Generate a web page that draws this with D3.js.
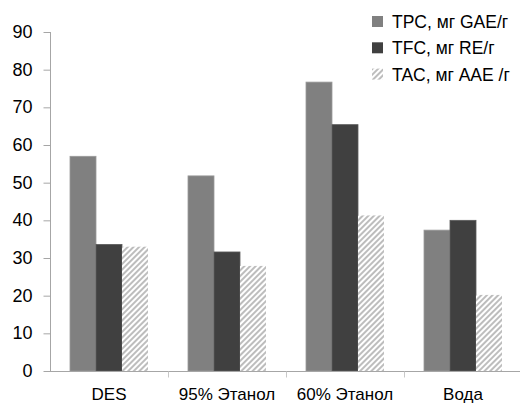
<!DOCTYPE html>
<html><head><meta charset="utf-8">
<script src="https://cdn.jsdelivr.net/npm/d3@7"></script>
<style>body{margin:0;background:#fff}svg{display:block}text{font-family:"Liberation Sans",Arial,sans-serif;fill:#000}</style>
</head><body><svg id="c" width="520" height="406"></svg>
<script>
const categories = ["DES", "95% Этанол", "60% Этанол", "Вода"];
const seriesNames = ["TPC, мг GAE/г", "TFC, мг RE/г", "TAC, мг AAE /г"];
const tpc = [57.0, 51.8, 76.7, 37.4];
const tfc = [33.6, 31.6, 65.4, 40.0];
const tac = [33.0, 27.9, 41.3, 20.2];
const yTicks = [0, 10, 20, 30, 40, 50, 60, 70, 80, 90];

const svg = d3.select("#c");
const defs = svg.append("defs");
const pat = defs.append("pattern").attr("id", "hatch").attr("patternUnits", "userSpaceOnUse")
  .attr("width", 4).attr("height", 4).attr("patternTransform", "rotate(45)");
pat.append("rect").attr("width", 4).attr("height", 4).attr("fill", "#fff");
pat.append("rect").attr("width", 2).attr("height", 4).attr("fill", "#bdbdbd");

const x0 = d3.scaleBand().domain(categories).range([50, 522]).paddingInner(0).paddingOuter(0);
const x1 = d3.scaleBand().domain([0, 1, 2]).range([20, 98]);
const y = d3.scaleLinear().domain([0, 90]).range([371, 32]);

const fills = ["#808080", "#404040", "url(#hatch)"];
const strokes = ["#9a9a9a", "#5a5a5a", "none"];
const series = [tpc, tfc, tac];

series.forEach((vals, si) => {
  svg.append("g").selectAll("rect").data(vals).join("rect")
    .attr("x", (d, i) => x0(categories[i]) + x1(si))
    .attr("y", d => y(d))
    .attr("width", x1.bandwidth())
    .attr("height", d => y(0) - y(d))
    .attr("fill", fills[si])
    .attr("stroke", strokes[si]).attr("stroke-width", 0.8);
});

// y axis
const ya = svg.append("g").attr("transform", "translate(50.5,0)")
  .call(d3.axisLeft(y).tickValues(yTicks).tickSize(7).tickPadding(11));
ya.select(".domain").attr("stroke", "#a6a6a6").attr("d", `M0,${y(90)}V${y(0)}`);
ya.selectAll(".tick line").attr("stroke", "#a6a6a6");
ya.selectAll(".tick text").attr("font-size", 18).attr("font-family", "Liberation Sans").attr("fill", "#000").attr("dy", "0.3em");

// x axis
const xa = svg.append("g").attr("transform", `translate(0,${y(0) + 0.5})`)
  .call(d3.axisBottom(x0).tickSize(0).tickPadding(16));
xa.select(".domain").attr("stroke", "#a6a6a6").attr("d", "M50,0H522");
xa.selectAll(".tick text").attr("font-size", 17).attr("font-family", "Liberation Sans").attr("fill", "#000");
xa.selectAll("line.sep").data(categories.slice(1)).join("line").attr("class", "sep")
  .attr("x1", d => Math.round(x0(d)) + 0.5).attr("x2", d => Math.round(x0(d)) + 0.5)
  .attr("y1", 0).attr("y2", 6).attr("stroke", "#c8c8c8");

// legend
const lg = svg.append("g").attr("transform", "translate(372,0)");
seriesNames.forEach((n, i) => {
  const top = 16 + i * 26.3;
  lg.append("rect").attr("x", 0).attr("y", top).attr("width", 11).attr("height", 11)
    .attr("fill", fills[i]);
  lg.append("text").attr("x", 20).attr("y", top + 12)
    .attr("font-size", 17.5).text(n);
});
</script></body></html>
